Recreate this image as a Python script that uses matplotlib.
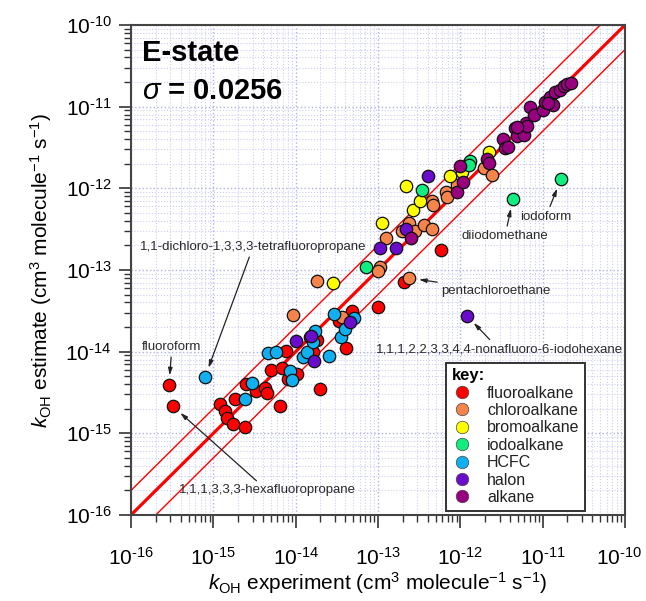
import numpy as np
import matplotlib
matplotlib.use("Agg")
import matplotlib.pyplot as plt
from matplotlib.lines import Line2D
from matplotlib.ticker import FuncFormatter, LogLocator
from matplotlib.transforms import ScaledTranslation

plt.rcParams['font.family'] = ['Liberation Sans', 'DejaVu Sans']
plt.rcParams['mathtext.fontset'] = 'custom'
plt.rcParams['mathtext.rm'] = 'Liberation Sans'
plt.rcParams['mathtext.it'] = 'Liberation Sans:italic'
plt.rcParams['mathtext.bf'] = 'Liberation Sans:bold'

# ---- data: log10 k_OH (experiment, estimate) ----
categories = ["fluoroalkane", "chloroalkane", "bromoalkane", "iodoalkane", "HCFC", "halon", "alkane"]
colors = ["#ff0000", "#f5844a", "#ffff00", "#10ee80", "#10b0f0", "#6a0ccc", "#990080"]

fluoro_exp = [-15.54, -15.49, -14.92, -14.86, -14.83, -14.76, -14.62, -14.74, -14.60, -14.48, -14.37, -14.35,
              -14.19, -14.30, -14.17, -14.12, -13.98, -13.71, -13.79, -13.74, -13.39, -13.31, -13.47, -12.23,
              -12.69, -13.00, -13.83, -14.09]
fluoro_est = [-14.41, -14.67, -14.64, -14.73, -14.81, -14.89, -14.92, -14.58, -14.39, -14.48, -14.44, -14.50,
              -14.66, -14.22, -14.20, -13.99, -14.27, -14.46, -14.01, -13.86, -13.96, -13.50, -13.63, -12.75,
              -13.15, -13.45, -13.82, -14.34]

chloro_exp = [-14.03, -13.44, -13.74, -12.98, -13.00, -12.90, -12.62, -12.71, -12.62, -12.55, -12.44, -12.35,
              -12.35, -12.33, -12.17, -12.16, -11.71, -11.62, -12.04]
chloro_est = [-13.55, -13.57, -13.14, -12.96, -13.01, -12.61, -13.10, -12.52, -12.42, -12.52, -12.45, -12.50,
              -12.15, -12.20, -12.05, -12.10, -11.75, -11.84, -11.96]

bromo_exp = [-13.55, -12.95, -12.66, -12.57, -12.49, -12.12, -11.98, -11.65]
bromo_est = [-13.16, -12.43, -11.97, -12.26, -12.16, -11.85, -11.80, -11.55]

iodo_exp = [-13.15, -12.47, -11.88, -11.90, -11.36, -10.78]
iodo_est = [-12.96, -12.02, -11.67, -11.72, -12.13, -11.89]

hcfc_exp = [-15.10, -14.62, -14.53, -14.34, -14.24, -14.07, -14.05, -13.91, -13.86, -13.79, -13.76, -13.60,
            -13.53, -13.45, -13.40, -13.29]
hcfc_est = [-14.31, -14.58, -14.38, -14.02, -14.01, -14.24, -14.35, -14.07, -14.00, -13.88, -13.75, -14.05,
            -13.54, -13.82, -13.72, -13.59]

halon_exp = [-14.00, -13.81, -13.78, -13.34, -12.97, -12.78, -12.66, -12.39, -11.92]
halon_est = [-13.87, -13.81, -14.11, -13.64, -12.73, -12.73, -12.50, -11.85, -13.56]

alkane_exp = [-12.60, -12.04, -11.97, -12.01, -11.68, -11.65, -11.48, -11.46, -11.42, -11.33, -11.31, -11.23,
              -11.20, -11.19, -11.15, -11.11, -11.00, -10.97, -10.91, -10.88, -10.85, -10.79, -10.74, -10.71,
              -10.66, -10.93, -11.31]
alkane_est = [-12.61, -12.04, -11.92, -11.73, -11.64, -11.69, -11.39, -11.51, -11.49, -11.26, -11.36, -11.35,
              -11.20, -11.24, -11.00, -11.10, -11.04, -10.94, -10.88, -10.98, -10.82, -10.79, -10.75, -10.72,
              -10.71, -10.95, -11.25]

series = [(fluoro_exp, fluoro_est), (chloro_exp, chloro_est), (bromo_exp, bromo_est), (iodo_exp, iodo_est),
          (hcfc_exp, hcfc_est), (halon_exp, halon_est), (alkane_exp, alkane_est)]

sigma_text = "0.0256"
ratio_factor = 2.0
axis_limits = [1e-16, 1e-10]
decade_ticks = [1e-16, 1e-15, 1e-14, 1e-13, 1e-12, 1e-11, 1e-10]

# annotations: (label, category index, point index, text position in axes fraction)
annotations = [
    ("iodoform", 3, 5, (0.840, 0.609)),
    ("diiodomethane", 3, 4, (0.757, 0.569)),
    ("pentachloroethane", 1, 6, (0.739, 0.458)),
    ("1,1-dichloro-1,3,3,3-tetrafluoropropane", 4, 0, (0.247, 0.547)),
    ("fluoroform", 0, 0, (0.083, 0.343)),
    ("1,1,1,3,3,3-hexafluoropropane", 0, 1, (0.276, 0.050)),
    ("1,1,1,2,2,3,3,4,4-nonafluoro-6-iodohexane", 5, 8, (0.745, 0.338)),
]

fig = plt.figure(figsize=(6.46, 6.01), dpi=100)
ax = fig.add_axes([131 / 646, 1 - 515 / 601, 494 / 646, 490 / 601])
ax.set_xscale('log')
ax.set_yscale('log')
ax.set_xlim(axis_limits)
ax.set_ylim(axis_limits)
ax.set_xticks(decade_ticks)
ax.set_yticks(decade_ticks)
minor_loc = LogLocator(base=10, subs=np.arange(2, 10), numticks=20)
ax.xaxis.set_minor_locator(minor_loc)
ax.yaxis.set_minor_locator(LogLocator(base=10, subs=np.arange(2, 10), numticks=20))

# grid
ax.grid(which='major', color='#b0b0ee', linestyle=':', linewidth=1.0, zorder=0)
ax.grid(which='minor', color='#cdcdf5', linestyle=':', linewidth=0.8, zorder=0)
ax.set_axisbelow(True)

# 1:1 and factor lines
xl = np.array(axis_limits)
ax.plot(xl, xl, color='#ff0000', lw=2.3, zorder=2)
ax.plot(xl, xl * ratio_factor, color='#ff0000', lw=1.0, zorder=2)
ax.plot(xl, xl / ratio_factor, color='#ff0000', lw=1.0, zorder=2)

for (xe, ye), c in zip(series, colors):
    ax.scatter(10 ** np.array(xe), 10 ** np.array(ye), s=80, c=c, edgecolors='#111111',
               linewidths=0.9, zorder=3)

for label, ci, pi, pos in annotations:
    xe, ye = series[ci]
    ax.annotate(label, xy=(10 ** xe[pi], 10 ** ye[pi]), xytext=pos, textcoords='axes fraction',
                ha='center', va='center', fontsize=9.5, color='#2a2a2a',
                arrowprops=dict(arrowstyle='-|>,head_length=0.45,head_width=0.13', color='#222222',
                                lw=0.9, shrinkA=1, shrinkB=7), zorder=4)

ax.text(0.022, 0.943, "E-state", transform=ax.transAxes, fontsize=21, fontweight='bold',
        ha='left', va='center')
ax.text(0.022, 0.865, r"$\sigma$" + " = " + sigma_text, transform=ax.transAxes, fontsize=21,
        fontweight='bold', ha='left', va='center')

# legend
handles = [Line2D([], [], marker='o', linestyle='none', markersize=9, markerfacecolor=c,
                  markeredgecolor='#444444', markeredgewidth=0.5) for c in colors]
leg = ax.legend(handles, categories, title="key:", loc='lower left', bbox_to_anchor=(0.638, 0.009),
                borderaxespad=0.0,
                fontsize=11.5, title_fontproperties={'weight': 'bold', 'size': 12}, alignment='left',
                frameon=True, fancybox=False, framealpha=1, edgecolor='#333333',
                labelspacing=0.15, handletextpad=0.9, borderpad=0.35, handlelength=1.3)
leg.get_frame().set_linewidth(1.4)
leg.set_zorder(5)
for t in leg.get_texts():
    t.set_color('#222222')

HYPHEN = "\u2010"


def exp_fmt(v, pos):
    e = int(round(np.log10(v)))
    sign = HYPHEN if e < 0 else ""
    return "$\\mathregular{10^{" + sign + str(abs(e)) + "}}$"


ax.xaxis.set_major_formatter(FuncFormatter(exp_fmt))
ax.yaxis.set_major_formatter(FuncFormatter(exp_fmt))

# spines and ticks
for sp in ax.spines.values():
    sp.set_color('#444444')
    sp.set_linewidth(1.5)
ax.tick_params(which='major', direction='out', length=9, width=1.2, color='#333333',
               labelsize=15, top=False, right=False)
ax.tick_params(which='minor', direction='out', length=5, width=1.0, color='#333333',
               top=False, right=False)
ax.tick_params(axis='x', which='major', pad=14)
ax.tick_params(axis='y', which='major', pad=5)

ax.set_xlabel(r"$k_{\mathrm{OH}}$ experiment (cm$^{3}$ molecule$^{-1}$ s$^{-1}$)", fontsize=15, labelpad=1)
ax.set_ylabel(r"$k_{\mathrm{OH}}$ estimate (cm$^{3}$ molecule$^{-1}$ s$^{-1}$)", fontsize=15, labelpad=8)

# keep the rightmost x tick label inside the figure
fig.canvas.draw()
for tick in ax.xaxis.get_major_ticks():
    if np.isclose(np.log10(tick.get_loc()), np.log10(axis_limits[1])):
        lab = tick.label1
        lab.set_transform(lab.get_transform() + ScaledTranslation(-4.0 / 72, 0, fig.dpi_scale_trans))

fig.savefig("out.png", dpi=100)
